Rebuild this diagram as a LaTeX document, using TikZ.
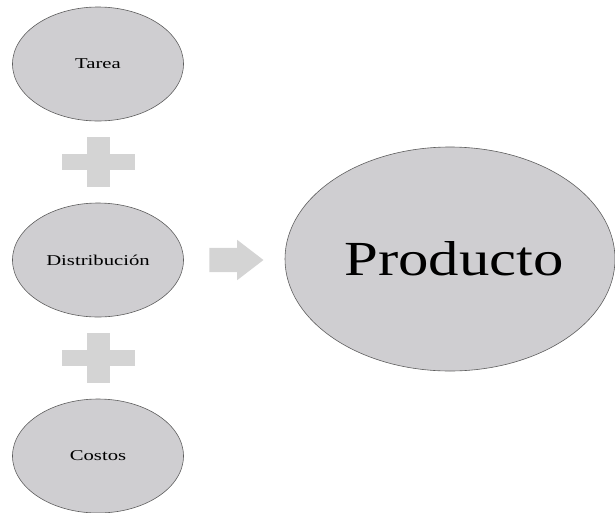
\documentclass[tikz,border=0pt]{standalone}
\usepackage{fontspec}
\usepackage{xcolor}
\usepackage{tikz}
\usetikzlibrary{positioning,calc,shapes.geometric,shapes.arrows}
\newfontfamily\lblfont[FakeStretch=1.38]{Liberation Serif}
\newfontfamily\bigfont[FakeStretch=1.24]{Liberation Serif}
\definecolor{bubblegrey}{HTML}{CFCED1}
\definecolor{edgegrey}{HTML}{5E5E5E}
\definecolor{signgrey}{HTML}{D4D4D4}

\begin{document}
\begin{tikzpicture}[
    x=1pt, y=-1pt,
    every node/.style={align=center},
    bub/.style={ellipse, draw=edgegrey, line width=0.6pt, fill=bubblegrey,
                inner sep=0pt, minimum width=171pt, minimum height=114pt,
                font=\lblfont\fontsize{15}{17}\selectfont},
    big/.style={bub, minimum width=330pt, minimum height=224pt,
                font=\bigfont\fontsize{49}{54}\selectfont},
    plusbar/.style={fill=signgrey, draw=none},
    flecha/.style={single arrow, fill=signgrey, draw=none, inner sep=0pt,
                   inner ysep=12pt, minimum height=54pt,
                   single arrow head extend=8pt, single arrow tip angle=75}
  ]
  \useasboundingbox (0,0) rectangle (615,512);

  % ---- columna izquierda ------------------------------------------------
  \node[bub] (tarea)   at (98,64)  {Tarea};
  \node[bub] (distrib) at (98,260) {Distribución};
  \node[bub] (costos)  at (98,456) {Costos};

  % ---- signos mas entre las elipses -------------------------------------
  \coordinate (mas1) at (98.5,162);
  \coordinate (mas2) at (98.5,358);
  \foreach \m in {mas1,mas2}{
    \fill[plusbar] ($(\m)+(-36.5,-8)$) rectangle ($(\m)+(36.5,8)$);
    \fill[plusbar] ($(\m)+(-11.5,-25)$) rectangle ($(\m)+(11.5,25)$);
  }

  % ---- resultado --------------------------------------------------------
  \node[flecha] (paso) at (228.5,260) {};
  \node[big] (producto) at (450,259) {\hspace*{8pt}Producto};

\end{tikzpicture}
\end{document}
